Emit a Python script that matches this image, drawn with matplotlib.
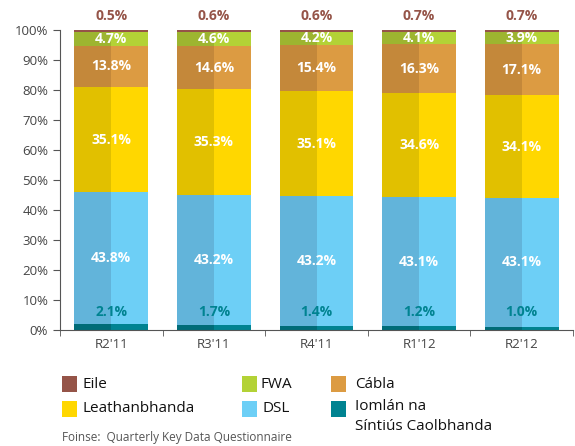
import matplotlib.pyplot as plt
import matplotlib.patches as mpatches
import numpy as np

plt.rcParams['font.family'] = ['Open Sans', 'DejaVu Sans']

quarters = ["R2'11", "R3'11", "R4'11", "R1'12", "R2'12"]
caolbhanda = [2.1, 1.7, 1.4, 1.2, 1.0]
dsl = [43.8, 43.2, 43.2, 43.1, 43.1]
leathanbhanda = [35.1, 35.3, 35.1, 34.6, 34.1]
cabla = [13.8, 14.6, 15.4, 16.3, 17.1]
fwa = [4.7, 4.6, 4.2, 4.1, 3.9]
eile = [0.5, 0.6, 0.6, 0.7, 0.7]

series = [caolbhanda, dsl, leathanbhanda, cabla, fwa, eile]
light = ['#008391', '#6DCFF6', '#FFD700', '#DC9B42', '#B3D236', '#955448']
dark = ['#006C78', '#62B4DA', '#E1C000', '#C4883A', '#9DB530', '#955448']

fig = plt.figure(figsize=(5.75, 4.46), dpi=100)
ax = fig.add_axes([60 / 575, 1 - 330 / 446, 513 / 575, 300 / 446])

x = np.arange(len(quarters))
w = 0.72
bottom = np.zeros(len(quarters))
for i, vals in enumerate(series):
    vals = np.array(vals)
    ax.bar(x, vals, w, bottom=bottom, color=light[i], linewidth=0)
    ax.bar(x - w / 4, vals, w / 2, bottom=bottom, color=dark[i], linewidth=0)
    for j in range(len(x)):
        lbl = f'{vals[j]:.1f}%'
        if i == 0:
            ax.text(x[j], 6, lbl, ha='center', va='center', color='#008391',
                    fontsize=10, fontweight='bold')
        elif i == len(series) - 1:
            ax.text(x[j], 104.7, lbl, ha='center', va='center', color='#955448',
                    fontsize=10, fontweight='bold', clip_on=False)
        else:
            ax.text(x[j], bottom[j] + vals[j] / 2, lbl, ha='center', va='center',
                    color='white', fontsize=10, fontweight='bold')
    bottom += vals

ax.set_xlim(-0.5, 4.5)
ax.set_ylim(0, 100)
ax.set_yticks(np.arange(0, 101, 10))
ax.set_yticklabels([f'{v}%' for v in range(0, 101, 10)])
ax.set_xticks(x)
ax.set_xticklabels(quarters)
ax.set_xticks(np.arange(-0.5, 4.6, 1), minor=True)
ax.tick_params(axis='x', which='major', length=0, pad=6, labelsize=9.5, labelcolor='#444444')
ax.tick_params(axis='x', which='minor', length=4, color='#555555', direction='out')
ax.tick_params(axis='y', length=5, color='#555555', labelsize=9.5, labelcolor='#444444')
for s in ['top', 'right']:
    ax.spines[s].set_visible(False)
for s in ['left', 'bottom']:
    ax.spines[s].set_color('#555555')

# legend
leg_labels = ['Eile', 'FWA', 'Cábla', 'Leathanbhanda', 'DSL', 'Iomlán na\nSíntiús Caolbhanda']
leg_colors = ['#955448', '#B3D236', '#DC9B42', '#FFD700', '#6DCFF6', '#008391']
col_x = [62, 242, 331]
text_x = [82, 260, 355]
row_y = [384, 409]
for k, (lab, col) in enumerate(zip(leg_labels, leg_colors)):
    r, c = divmod(k, 3)
    sx, sy = col_x[c], row_y[r]
    fig.add_artist(mpatches.Rectangle((sx / 575, 1 - (sy + 8) / 446), 15 / 575, 16 / 446,
                                      transform=fig.transFigure, color=col, linewidth=0))
    tx = text_x[c] + (3 if lab == 'DSL' else 0)
    fig.text(tx / 575, 1 - sy / 446, lab, ha='left', va='top' if '\n' in lab else 'center',
             fontsize=11, color='#111111', linespacing=1.5)
fig.texts[-1].set_y(1 - (sy - 10) / 446)

fig.text(62 / 575, 1 - 438 / 446, 'Foinse:  Quarterly Key Data Questionnaire',
         ha='left', va='center', fontsize=8.5, color='#555555')

fig.savefig('out.png', dpi=100)
